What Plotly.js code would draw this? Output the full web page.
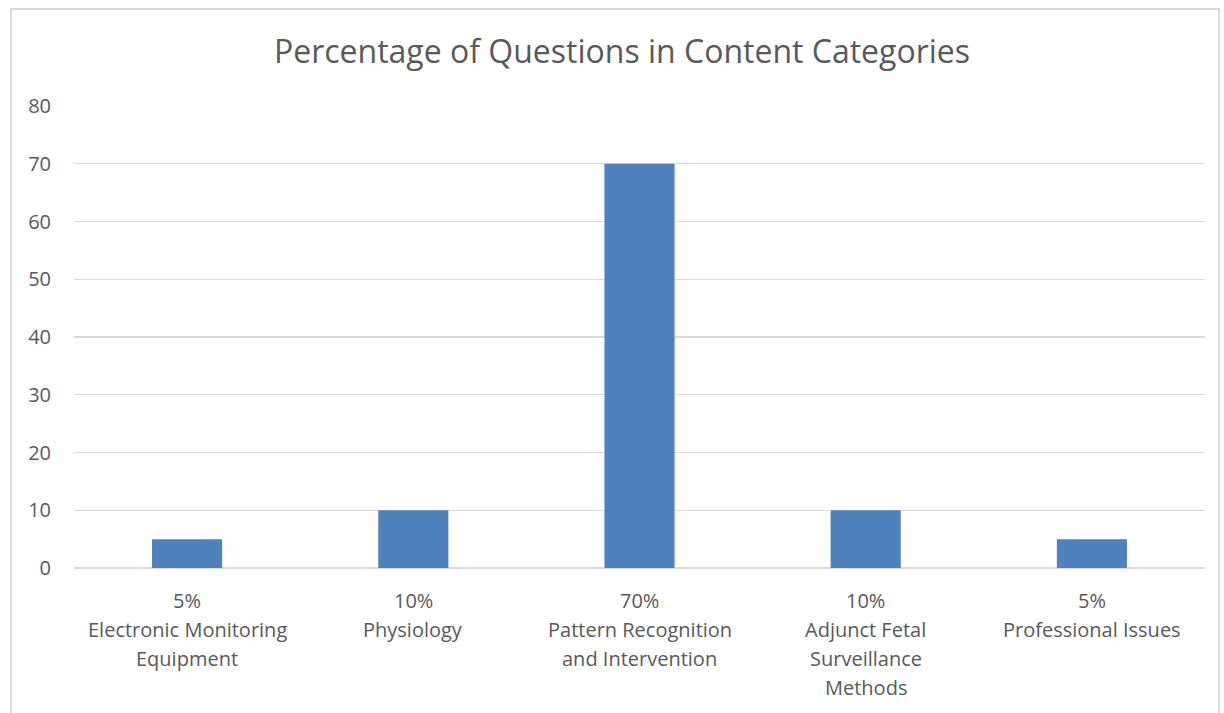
<!DOCTYPE html>
<html>
<head>
<meta charset="utf-8">
<script src="https://cdn.plot.ly/plotly-3.0.1.min.js"></script>
<style>
  html, body { margin: 0; padding: 0; background: #fff; }
  #wrap { position: relative; width: 1224px; height: 713px; overflow: hidden; }
  #chart { width: 1224px; height: 713px; }
  #frame { position: absolute; left: 10px; top: 8px; width: 1210px; height: 720px;
           border: 2px solid #d9d9d9; box-sizing: border-box; pointer-events: none; }
</style>
</head>
<body>
<div id="wrap">
  <div id="chart"></div>
  <div id="frame"></div>
</div>
<script>
// ---- data ----
const categories = [
  "Electronic Monitoring<br>Equipment",
  "Physiology",
  "Pattern Recognition<br>and Intervention",
  "Adjunct Fetal<br>Surveillance<br>Methods",
  "Professional Issues"
];
const percentages = [5, 10, 70, 10, 5];
const yTicks = [0, 10, 20, 30, 40, 50, 60, 70, 80];
const chartTitle = "Percentage of Questions in Content Categories";

// ---- styling ----
const textColor = "#595959";
const fontFamily = "Open Sans, sans-serif";
const labelSize = 20;
const lineSpacing = 29;   // px between label lines
const firstLineOffset = 17; // px below the plot bottom

const xIdx = categories.map((_, i) => i);

const annotations = [];
categories.forEach((cat, i) => {
  const lines = [percentages[i] + "%"].concat(cat.split("<br>"));
  lines.forEach((ln, j) => {
    annotations.push({
      x: xIdx[i], xref: "x",
      y: 0, yref: "paper",
      yanchor: "top", xanchor: "center",
      yshift: -(firstLineOffset + j * lineSpacing),
      text: ln, showarrow: false,
      font: { family: fontFamily, size: labelSize, color: textColor }
    });
  });
});

const trace = {
  type: "bar",
  x: xIdx,
  y: percentages,
  marker: { color: "#4f81bd" },
  hoverinfo: "skip"
};

const layout = {
  width: 1224, height: 713,
  margin: { l: 74, r: 19, t: 106, b: 145 },
  paper_bgcolor: "#fff", plot_bgcolor: "#fff",
  bargap: 0.69,
  showlegend: false,
  title: {
    text: chartTitle,
    x: 622 / 1224, xref: "container", xanchor: "center",
    y: 1 - 52 / 713, yref: "container", yanchor: "middle",
    font: { family: fontFamily, size: 32, color: textColor }
  },
  xaxis: {
    range: [-0.5, 4.5],
    showticklabels: false,
    showgrid: false, zeroline: false, showline: false, ticks: ""
  },
  yaxis: {
    range: [0, 80],
    tickvals: yTicks,
    ticktext: yTicks.map(String),
    showgrid: true, gridcolor: "#d9d9d9", gridwidth: 1.3,
    zeroline: true, zerolinecolor: "#d9d9d9", zerolinewidth: 1.3,
    showline: false, ticks: "",
    ticklabelstandoff: 22,
    tickfont: { family: fontFamily, size: labelSize, color: textColor }
  },
  annotations: annotations
};

Plotly.newPlot("chart", [trace], layout, { displayModeBar: false, staticPlot: true });
</script>
</body>
</html>
